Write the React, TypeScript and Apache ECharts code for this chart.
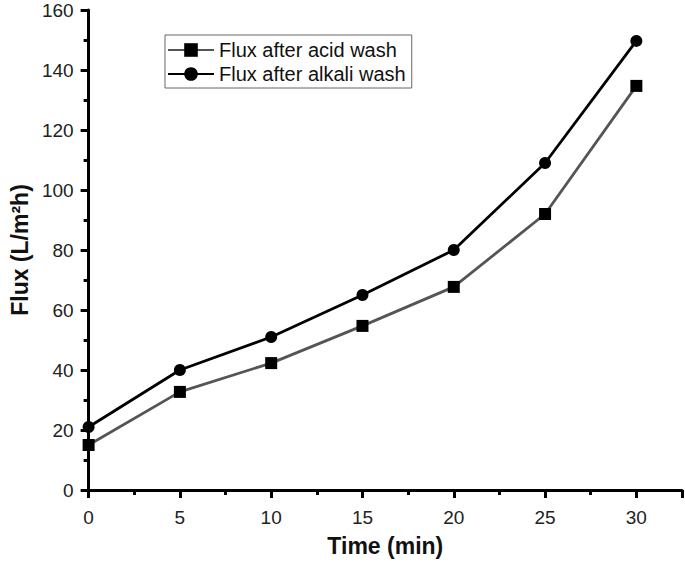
import React, { useEffect, useRef } from "react";
import * as echarts from "echarts";

const times = [0, 5, 10, 15, 20, 25, 30];
const acidFlux = [15, 32.7, 42.3, 54.7, 67.7, 92, 134.7];
const alkaliFlux = [21, 40, 51, 65, 80, 109, 149.7];
const seriesNames = ["Flux after acid wash", "Flux after alkali wash"];

const FONT = "Liberation Sans, Arial, sans-serif";

export default function App() {
  const ref = useRef<HTMLDivElement>(null);
  useEffect(() => {
    if (!ref.current) return;
    const chart = echarts.init(ref.current, null, { renderer: "svg" });
    const axisCommon = {
      axisLine: { show: true, lineStyle: { color: "#000", width: 3 } },
      axisTick: { show: true, inside: false, length: 8, lineStyle: { color: "#000", width: 3 } },
      minorTick: { show: true, splitNumber: 2, length: 5, lineStyle: { color: "#000", width: 3 } },
      splitLine: { show: false },
      axisLabel: { color: "#222", fontSize: 19, fontFamily: FONT },
    };
    chart.setOption({
      animation: false,
      backgroundColor: "#fff",
      grid: { left: 84, top: 10, right: 3, bottom: 72, containLabel: false },
      legend: {
        orient: "vertical",
        left: 165,
        top: 35,
        data: seriesNames,
        borderColor: "#666",
        borderWidth: 1,
        borderRadius: 0,
        padding: [5, 6, 4, 2],
        itemGap: 4,
        itemWidth: 46,
        itemHeight: 17,
        textStyle: { fontSize: 20, color: "#111", fontFamily: FONT },
      },
      xAxis: {
        type: "value",
        min: 0,
        max: 32.5,
        interval: 5,
        name: "Time (min)",
        nameLocation: "middle",
        nameGap: 44,
        nameTextStyle: { fontSize: 23, fontWeight: "bold", color: "#111", fontFamily: FONT },
        ...axisCommon,
        axisLabel: { ...axisCommon.axisLabel, margin: 18, showMaxLabel: false },
      },
      yAxis: {
        type: "value",
        min: 0,
        max: 160,
        interval: 20,
        name: "Flux (L/m²h)",
        nameLocation: "middle",
        nameGap: 56,
        nameRotate: 90,
        nameTextStyle: { fontSize: 23, fontWeight: "bold", color: "#111", fontFamily: FONT },
        ...axisCommon,
        axisLabel: { ...axisCommon.axisLabel, margin: 15 },
      },
      series: [
        {
          name: seriesNames[0],
          type: "line",
          data: times.map((t, i) => [t, acidFlux[i]]),
          symbol: "rect",
          symbolSize: 12,
          itemStyle: { color: "#000" },
          lineStyle: { color: "#555", width: 2.8 },
        },
        {
          name: seriesNames[1],
          type: "line",
          data: times.map((t, i) => [t, alkaliFlux[i]]),
          symbol: "circle",
          symbolSize: 12,
          itemStyle: { color: "#000" },
          lineStyle: { color: "#000", width: 2.8 },
        },
      ],
    });
    return () => chart.dispose();
  }, []);
  return <div ref={ref} style={{ width: 685, height: 562, position: "absolute", left: 0, top: 0 }} />;
}
